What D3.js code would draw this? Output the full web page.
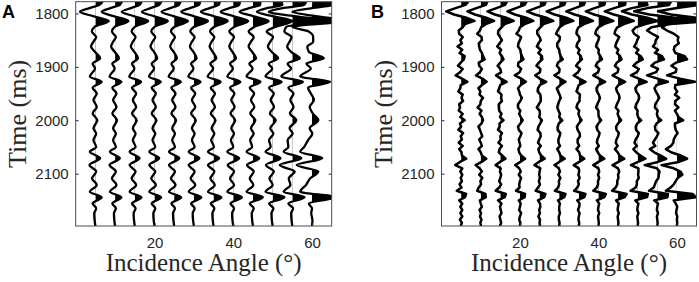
<!DOCTYPE html>
<html><head><meta charset="utf-8">
<script src="https://cdn.jsdelivr.net/npm/d3@7"></script>
<style>body{margin:0;background:#fff}svg{display:block}</style>
</head><body><svg id="c" width="699" height="282"></svg>
<script>
// ---- data ----
const angles = [5,10,15,20,25,30,35,40,45,50,55,60];
const xTicks = [20,40,60];
const yTicks = [1800,1900,2000,2100];
const timeDomain = [1778,2198];
const angleDomain = [0,65];

// Panel A: knot times (ms) and trace deflections (in degrees of angle)
const timesA = [1778,1784,1790,1797,1805,1814,1825,1834,1844,1853,1862,1872,1884,1894,1903,1918,1928,1939,1950,1962,1975,1987,2000,2015,2025,2037,2050,2059,2071,2084,2096,2109,2121,2134,2144,2156,2165,2174,2187,2198];
const a05 = [1.8,1.0,-1.5,-3.9,-0.6,3.4,-0.2,-0.9,0.2,-0.5,-1.1,-0.1,1.2,-0.7,-0.1,-1.4,1.6,-0.7,0.35,-0.5,0.35,-0.7,0.5,-0.5,0.2,-0.5,0.2,-1.4,1.2,-1.5,0.2,-0.85,0.35,-1.4,1.6,-0.7,0.2,-0.3,-0.2,0.0];
const a10 = [1.7,1.2,-1.2,-3.4,-0.4,3.4,-0.1,-0.8,0.2,-0.5,-1.0,-0.1,1.0,-0.7,-0.1,-1.4,1.6,-0.7,0.35,-0.5,0.35,-0.7,0.5,-0.5,0.2,-0.5,0.2,-1.3,1.2,-1.4,0.2,-0.8,0.35,-1.3,1.6,-0.7,0.2,-0.3,-0.2,0.0];
const a15 = [1.7,1.2,-1.0,-3.3,-0.3,3.4,0.0,-0.8,0.2,-0.5,-1.0,-0.1,0.8,-0.7,-0.1,-1.4,1.6,-0.7,0.35,-0.5,0.35,-0.7,0.5,-0.5,0.2,-0.5,0.2,-1.3,1.2,-1.3,0.2,-0.8,0.35,-1.3,1.7,-0.7,0.2,-0.3,-0.2,0.0];
const a20 = [1.7,1.2,-1.0,-3.2,-0.2,3.4,0.0,-0.8,0.2,-0.5,-1.0,-0.1,0.7,-0.7,-0.1,-1.4,1.6,-0.7,0.35,-0.5,0.35,-0.7,0.5,-0.5,0.2,-0.5,0.2,-1.3,1.2,-1.3,0.2,-0.8,0.35,-1.3,1.7,-0.7,0.2,-0.3,-0.2,0.0];
const a25 = [1.6,1.2,-1.0,-3.2,-0.2,3.5,0.1,-0.8,0.2,-0.5,-1.0,-0.1,0.7,-0.7,-0.1,-1.4,1.7,-0.7,0.35,-0.5,0.35,-0.7,0.5,-0.5,0.2,-0.5,0.2,-1.3,1.3,-1.3,0.2,-0.8,0.35,-1.3,1.8,-0.7,0.2,-0.3,-0.2,0.0];
const a30 = [1.6,1.3,-1.0,-3.2,-0.1,3.6,0.1,-0.9,0.2,-0.5,-1.0,-0.1,0.7,-0.7,-0.1,-1.4,1.7,-0.7,0.35,-0.5,0.35,-0.7,0.5,-0.5,0.2,-0.5,0.2,-1.3,1.4,-1.3,0.2,-0.8,0.35,-1.3,1.9,-0.7,0.2,-0.3,-0.2,0.0];
const a35 = [1.6,1.3,-1.0,-3.2,0.0,3.6,0.2,-0.9,0.2,-0.5,-1.0,-0.2,0.7,-0.8,-0.1,-1.5,1.8,-0.7,0.35,-0.5,0.35,-0.7,0.5,-0.5,0.2,-0.6,0.1,-1.4,1.4,-1.4,0.2,-0.8,0.3,-1.4,2.0,-0.7,0.2,-0.3,-0.2,0.0];
const a40 = [1.7,1.5,-1.0,-3.2,0.0,3.8,0.3,-1.0,0.2,-0.5,-1.0,-0.2,0.7,-0.8,-0.1,-1.5,1.8,-0.8,0.3,-0.5,0.35,-0.7,0.5,-0.5,0.2,-0.6,0.0,-1.5,1.5,-1.4,0.2,-0.8,0.2,-1.5,2.2,-0.7,0.2,-0.3,-0.2,0.0];
const a45 = [1.9,1.8,-1.0,-3.4,0.0,4.0,0.4,-1.1,0.2,-0.5,-1.1,-0.2,0.8,-0.9,-0.1,-1.6,1.9,-0.8,0.3,-0.5,0.35,-0.7,0.6,-0.5,0.2,-0.7,-0.2,-1.6,1.6,-1.5,0.2,-0.8,0.1,-1.6,2.5,-0.8,0.2,-0.3,-0.2,0.0];
const a50 = [2.2,2.5,-1.5,-4.0,0.0,5.0,0.8,-1.5,0.1,-0.6,-1.2,-0.2,1.4,-1.0,-0.1,-1.8,2.3,-0.9,0.3,-0.5,0.35,-0.7,0.8,-0.6,0.2,-0.9,-0.5,-1.8,2.0,-1.7,0.3,-0.8,0.0,-1.8,3.0,-0.9,0.2,-0.3,-0.2,0.0];
const a55 = [3.5,3.0,-2.5,-6.0,0.5,9.0,-1.5,-2.0,-0.2,-0.7,-1.3,-0.3,1.9,-1.2,-0.3,-2.8,2.7,-1.0,0.3,-0.5,0.3,-0.6,1.0,-0.7,0.1,-1.2,-1.0,-2.2,2.3,-3.2,0.6,-0.9,-0.5,-2.2,3.1,-1.0,0.2,-0.3,-0.2,0.0];
const a60 = [7.0,5.5,0.0,-5.0,1.0,9.0,-5.0,-0.8,0.3,0.3,-1.2,-0.8,3.0,-1.4,-0.3,-3.0,4.6,-1.0,-0.3,0.5,-0.6,0.2,1.6,-0.6,0.1,-1.0,-2.0,-3.0,2.6,-3.9,1.6,-0.5,-1.5,-3.0,6.0,-0.8,0.0,-0.2,0.1,0.0];
const tracesA = [a05,a10,a15,a20,a25,a30,a35,a40,a45,a50,a55,a60];

// Panel B: sample times (ms) and noisy trace deflections
const timesB = [1778,1784,1790,1796,1802,1808,1814,1820,1826,1832,1838,1844,1850,1856,1862,1868,1874,1880,1886,1892,1898,1904,1910,1916,1922,1928,1934,1940,1946,1952,1958,1964,1970,1976,1982,1988,1994,2000,2006,2012,2018,2024,2030,2036,2042,2048,2054,2060,2066,2072,2078,2084,2090,2096,2102,2108,2114,2120,2126,2132,2138,2144,2150,2156,2162,2168,2174,2180,2186,2192,2198];
const b05 = [1.8,1.1,-1.4,-3.8,-1.8,1.3,3.4,1.0,0.4,-0.6,-0.5,0.4,-0.2,0.2,-0.9,0.3,-0.4,0.9,0.7,-0.1,-0.8,0.4,-0.3,-1.4,0.2,1.6,-0.1,-0.2,-0.7,0.4,0.1,0.5,-0.5,-0.3,-0.6,0.4,-0.2,0.9,-0.3,0.0,-0.7,0.5,-0.1,0.2,-0.6,0.4,-0.5,0.1,0.2,1.3,-0.3,-1.5,0.3,-0.2,0.3,-0.1,0.2,-0.4,0.1,-1.1,1.3,1.0,-0.5,0.3,-0.2,0.3,-0.2,0.3,-0.3,0.2,-0.1];
const b10 = [1.7,1.3,-1.1,-3.4,-1.5,1.4,3.4,1.3,0.1,-0.2,-0.9,0.2,0.3,-0.5,-0.4,-0.2,0.3,0.6,1.0,-0.5,-0.4,0.3,-0.2,-1.2,0.4,1.5,0.3,-0.6,-0.1,-0.3,0.6,0.0,-0.1,-0.8,0.2,-0.3,0.3,0.6,0.2,-0.6,-0.2,0.1,0.4,-0.4,0.0,0.3,-0.6,0.0,0.3,1.4,0.2,-1.3,-0.3,0.3,-0.4,0.4,-0.1,0.1,-0.5,-0.9,1.2,1.3,-0.2,0.0,0.3,-0.3,0.1,-0.2,0.2,-0.1,0.1];
const b15 = [1.7,1.2,-1.0,-3.3,-1.4,1.5,3.4,1.1,0.3,-0.5,-0.6,-0.1,0.4,-0.2,-0.8,0.2,-0.2,0.4,0.8,0.0,-0.7,0.0,0.2,-1.1,0.1,1.6,0.0,-0.3,-0.6,0.3,0.2,0.4,-0.4,-0.4,-0.3,0.3,-0.1,0.8,-0.2,-0.2,-0.6,0.4,0.0,0.1,-0.5,0.4,-0.2,-0.4,0.5,1.3,-0.1,-1.2,0.1,-0.1,0.2,0.0,-0.3,0.2,-0.3,-1.2,1.4,1.1,-0.6,0.3,-0.1,0.1,0.3,-0.2,0.0,0.2,-0.1];
const b20 = [1.7,1.2,-1.0,-3.2,-1.3,1.6,3.4,1.2,0.0,-0.3,-0.9,0.3,0.0,-0.4,-0.5,0.1,0.2,0.5,0.9,-0.4,-0.5,0.3,-0.1,-1.3,0.3,1.5,0.2,-0.5,-0.2,0.0,0.5,0.1,-0.5,-0.5,0.1,-0.2,0.2,0.7,0.1,-0.5,-0.3,0.4,0.1,-0.3,-0.1,0.1,-0.4,-0.2,0.3,1.3,0.1,-1.2,-0.2,0.2,-0.3,0.3,0.0,-0.2,-0.1,-1.0,1.3,1.2,-0.3,0.2,0.0,-0.2,0.3,0.0,-0.2,0.1,0.0];
const b25 = [1.6,1.2,-1.0,-3.2,-1.2,1.7,3.5,1.0,0.2,-0.6,-0.6,0.0,0.3,-0.3,-0.7,0.3,-0.3,0.6,0.7,-0.2,-0.8,0.2,0.1,-1.1,0.0,1.7,0.1,-0.4,-0.5,0.2,0.3,0.3,-0.2,-0.7,0.0,0.1,-0.1,0.6,0.2,-0.3,-0.5,0.2,0.3,-0.1,-0.4,0.3,-0.3,-0.1,0.4,1.3,-0.2,-1.3,0.2,0.0,-0.1,0.1,-0.2,0.1,-0.4,-1.0,1.5,1.2,-0.4,0.1,0.2,-0.1,0.1,-0.3,0.1,0.0,0.1];
const b30 = [1.6,1.3,-1.0,-3.2,-1.2,1.8,3.6,1.2,0.1,-0.4,-0.8,0.2,0.1,-0.5,-0.5,0.0,0.1,0.4,0.9,-0.3,-0.6,0.1,0.0,-1.2,0.2,1.6,0.3,-0.6,-0.3,0.1,0.4,0.0,-0.3,-0.5,-0.2,0.2,0.0,0.8,-0.1,-0.4,-0.4,0.3,0.1,-0.2,-0.2,0.2,-0.5,0.0,0.3,1.4,0.0,-1.2,-0.1,0.2,-0.2,0.3,-0.1,0.0,-0.3,-1.1,1.6,1.3,-0.3,0.2,0.0,0.0,0.2,-0.1,-0.1,0.1,0.0];
const b35 = [1.6,1.3,-1.0,-3.2,-1.1,1.8,3.6,1.3,-0.1,-0.5,-0.6,0.1,0.2,-0.4,-0.6,0.2,-0.2,0.5,0.8,-0.1,-0.7,0.3,-0.2,-1.3,0.1,1.7,0.0,-0.3,-0.6,0.3,0.2,0.2,-0.4,-0.6,0.1,-0.1,0.2,0.7,0.0,-0.5,-0.3,0.2,0.3,-0.3,-0.3,0.1,-0.6,0.1,0.3,1.4,0.1,-1.3,0.0,0.1,-0.1,0.2,-0.2,0.0,-0.4,-1.2,1.7,1.4,-0.4,0.2,0.1,-0.2,0.2,0.0,-0.1,0.1,0.0];
const b40 = [1.7,1.5,-1.0,-3.2,-1.1,1.9,3.8,1.4,0.0,-0.6,-0.8,0.2,0.0,-0.4,-0.6,0.1,0.0,0.5,0.9,-0.3,-0.7,0.2,-0.1,-1.3,0.2,1.7,0.0,-0.5,-0.4,0.1,0.4,0.1,-0.3,-0.6,0.0,0.0,0.1,0.7,0.0,-0.5,-0.3,0.3,0.1,-0.3,-0.4,0.1,-0.6,-0.2,0.4,1.5,0.0,-1.3,0.0,0.2,-0.1,0.2,-0.1,-0.1,-0.4,-1.3,1.9,1.5,-0.4,0.2,0.0,-0.1,0.2,-0.1,0.0,0.1,0.0];
const b45 = [1.9,1.8,-1.0,-3.4,-1.1,2.0,4.0,1.5,-0.2,-0.7,-0.9,0.3,-0.1,-0.5,-0.7,0.1,-0.3,0.5,0.9,-0.3,-0.8,0.1,-0.1,-1.4,0.2,1.8,0.1,-0.5,-0.3,0.2,0.4,0.1,-0.3,-0.6,0.1,-0.1,0.2,0.8,0.0,-0.5,-0.4,0.2,0.0,-0.4,-0.6,-0.1,-0.8,-0.1,0.4,1.6,0.1,-1.4,0.0,0.3,0.0,0.1,-0.2,-0.2,-0.6,-1.5,2.2,1.7,-0.5,0.2,0.0,-0.1,0.2,-0.1,0.0,0.1,0.0];
const b50 = [2.2,2.5,-1.5,-4.0,-1.5,2.5,5.0,2.0,-0.5,-1.3,-0.9,0.3,-0.1,-0.4,-0.9,0.2,-0.4,0.8,1.3,-0.3,-1.1,0.3,-0.2,-1.7,0.3,2.3,0.0,-0.6,-0.4,0.2,0.4,0.1,-0.4,-0.6,0.0,-0.1,0.1,0.9,-0.1,-0.5,-0.4,0.3,0.0,-0.5,-0.8,-0.2,-1.1,-0.4,0.7,2.0,0.1,-1.7,0.2,0.2,0.1,0.3,-0.2,-0.2,-0.5,-1.8,2.6,2.4,-0.6,0.2,0.0,-0.1,0.2,-0.1,0.0,0.1,0.0];
const b55 = [3.5,3.0,-2.5,-5.9,-2.0,4.5,9.0,3.0,-1.5,-2.6,-1.3,0.2,-0.4,-0.5,-1.1,0.2,-0.6,1.2,1.7,-0.6,-1.5,0.2,-0.3,-2.6,0.1,2.7,-0.2,-0.7,-0.4,0.1,0.5,0.0,-0.5,-0.6,0.1,-0.1,0.1,1.0,-0.2,-0.6,-0.5,0.3,-0.1,-0.6,-1.1,-0.5,-1.9,-0.8,0.9,2.3,0.2,-3.2,-0.1,0.6,0.4,0.3,-0.3,-0.6,-0.9,-2.1,2.7,2.6,-0.8,0.2,0.0,-0.1,0.2,-0.1,0.0,0.1,0.0];
const b60 = [7.0,5.5,0.0,-4.8,-1.5,5.0,9.0,-2.5,-3.8,-2.5,-0.8,0.4,0.2,0.5,-0.6,-0.8,-0.4,2.0,2.6,-0.2,-1.4,-0.1,-0.3,-2.5,0.8,4.6,-0.4,-0.5,0.1,-0.5,0.6,-0.4,-0.5,0.4,-0.5,0.0,0.4,1.6,-0.5,-0.5,-0.3,0.2,-0.4,-0.8,-0.9,-1.5,-2.8,-1.5,1.0,2.6,0.5,-3.9,-0.8,0.9,1.4,0.2,-0.3,-0.8,-1.6,-2.8,4.0,4.8,-0.8,-0.3,0.1,-0.1,-0.2,0.1,0.0,0.1,0.0];
const tracesB = [b05,b10,b15,b20,b25,b30,b35,b40,b45,b50,b55,b60];

// ---- drawing ----
const svg = d3.select('#c');
const defs = svg.append('defs');
const TOP = 1.7, BOTTOM = 226;

function drawPanel(id, left, right, times, traces, curve, strokeW, letter, letterX) {
  const x = d3.scaleLinear().domain(angleDomain).range([left, right]);
  const y = d3.scaleLinear().domain(timeDomain).range([TOP, BOTTOM]);

  defs.append('clipPath').attr('id', 'box' + id)
    .append('rect').attr('x', left).attr('y', TOP).attr('width', right - left).attr('height', BOTTOM - TOP);
  const plot = svg.append('g').attr('clip-path', `url(#box${id})`);

  traces.forEach((vals, i) => {
    const a = angles[i];
    const pts = times.map((t, j) => [t, vals[j]]);
    const cid = `pos${id}${i}`;
    defs.append('clipPath').attr('id', cid)
      .append('rect').attr('x', x(a)).attr('y', 0).attr('width', right - x(a) + 20).attr('height', 282);
    const area = d3.area().curve(curve)
      .y(d => y(d[0])).x0(x(a)).x1(d => x(a + d[1]));
    plot.append('g').attr('clip-path', `url(#${cid})`)
      .append('path').attr('d', area(pts)).attr('fill', '#000');
    const line = d3.line().curve(curve).y(d => y(d[0])).x(d => x(a + d[1]));
    plot.append('path').attr('d', line(pts)).attr('fill', 'none')
      .attr('stroke', '#000').attr('stroke-width', strokeW).attr('stroke-linejoin', 'round');
  });

  const fontTick = '"Liberation Sans", Arial, sans-serif';
  const styleAxis = g => {
    g.select('.domain').remove();
    g.selectAll('line').attr('stroke', '#262626');
    g.selectAll('text').attr('fill', '#262626').style('font-family', fontTick).style('font-size', '15px');
  };
  svg.append('g').attr('transform', `translate(${left},0)`)
    .call(d3.axisLeft(y).tickValues(yTicks).tickSizeInner(-3).tickSizeOuter(0).tickPadding(7).tickFormat(d3.format('d')))
    .call(styleAxis);
  svg.append('g').attr('transform', `translate(${right},0)`)
    .call(d3.axisRight(y).tickValues(yTicks).tickSizeInner(-3).tickSizeOuter(0).tickFormat(''))
    .call(styleAxis);
  svg.append('g').attr('transform', `translate(0,${BOTTOM})`)
    .call(d3.axisBottom(x).tickValues(xTicks).tickSizeInner(-3).tickSizeOuter(0).tickPadding(11).tickFormat(d3.format('d')))
    .call(styleAxis);
  svg.append('g').attr('transform', `translate(0,${TOP})`)
    .call(d3.axisTop(x).tickValues(xTicks).tickSizeInner(-3).tickSizeOuter(0).tickFormat(''))
    .call(styleAxis);

  svg.append('rect').attr('x', left).attr('y', TOP).attr('width', right - left).attr('height', BOTTOM - TOP)
    .attr('fill', 'none').attr('stroke', '#4d4d4d').attr('stroke-width', 1);

  const serif = '"Liberation Serif", "Times New Roman", serif';
  svg.append('text').text('Incidence Angle (°)')
    .attr('x', (left + right) / 2).attr('y', 271).attr('text-anchor', 'middle')
    .style('font-family', serif).style('font-size', '25px').attr('fill', '#262626');
  svg.append('text').text('Time (ms)')
    .attr('transform', `translate(${left - 50},${(TOP + BOTTOM) / 2}) rotate(-90)`)
    .attr('text-anchor', 'middle')
    .style('font-family', serif).style('font-size', '26px').attr('fill', '#262626');
  svg.append('text').text(letter).attr('x', letterX).attr('y', 18)
    .style('font-family', fontTick).style('font-weight', 'bold').style('font-size', '18px').attr('fill', '#000');
}

drawPanel('A', 75.7, 331.7, timesA, tracesA, d3.curveMonotoneY, 2.3, 'A', 2);
drawPanel('B', 441.5, 696.5, timesB, tracesB, d3.curveLinear, 2.5, 'B', 371);
</script>
</body></html>
